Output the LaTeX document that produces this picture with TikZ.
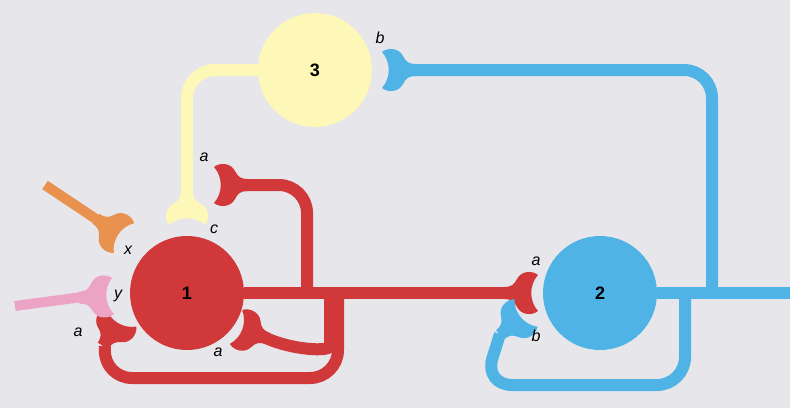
\documentclass[tikz,border=0pt]{standalone}
\usepackage{fontspec}
\setmainfont{Liberation Sans}
\begin{document}
\begin{tikzpicture}[x=1pt,y=-1pt,
  cell/.style={circle,minimum size=114pt,inner sep=0pt,font=\bfseries\fontsize{18}{18}\selectfont},
  ax/.style={line width=12pt,rounded corners=28pt},
  lab/.style={font=\itshape\fontsize{16}{16}\selectfont}]
\definecolor{bg}{HTML}{E7E7EB}
\definecolor{cr}{HTML}{D0383A}
\definecolor{cb}{HTML}{4FB3E6}
\definecolor{cy}{HTML}{FDF7B8}
\definecolor{co}{HTML}{E9914E}
\definecolor{cp}{HTML}{EDA3C3}
\newcommand\syn[4]{\fill[#4,shift={(#1,#2)},rotate=#3] (0,18) .. controls (-6,23) and (-17,22) .. (-21,14) .. controls (-24,8) and (-27,6) .. (-34,6) -- (-34,-6) .. controls (-27,-6) and (-24,-8) .. (-21,-14) .. controls (-17,-22) and (-6,-23) .. (0,-18) .. controls (-9,-8) and (-9,8) .. (0,18) -- cycle;}
\fill[bg] (0,0) rectangle (790,408);
\useasboundingbox (0,0) rectangle (790,408);
\node[cell,fill=cr] (n1) at (187,293) {1};
\node[cell,fill=cb] (n2) at (600,293) {2};
\node[cell,fill=cy] (n3) at (315,70) {3};
% red
\coordinate (r0) at (307,293); \coordinate (r1) at (330,293); \coordinate (r2) at (338,293);
\coordinate (ra) at (508,293); \coordinate (rb) at (246,185);
\coordinate (rc) at (266,338); \coordinate (rd) at (105,346);
\draw[ax,cr] (n1.east) -- (ra);
\draw[ax,cr] (r0) |- (rb);
\draw[ax,cr] (r1) -- (330,318) .. controls (330,352) and (292,350) .. (rc);
\draw[ax,cr] (r2) -- (338,378) -- (104,378) -- (rd);
\syn{538}{293}{0}{cr}
\syn{214}{185}{180}{cr}
\syn{236}{327}{160}{cr}
\syn{121}{317}{58}{cr}
% yellow
\coordinate (ya) at (187,196);
\draw[ax,cy] (n3.west) -| (ya);
\syn{187}{225}{-90}{cy}
% orange, pink
\coordinate (o0) at (45,185); \coordinate (oa) at (96,219);
\draw[co,line width=10pt] (o0) -- (oa);
\syn{124}{238}{-34.5}{co}
\coordinate (p0) at (15,306); \coordinate (pa) at (82,297);
\draw[cp,line width=10pt] (p0) -- (pa);
\syn{113}{296}{3}{cp}
% blue
\coordinate (b0) at (712,293); \coordinate (b1) at (685,293);
\coordinate (bend) at (790,293); \coordinate (ba) at (412,70); \coordinate (bb) at (500,334);
\draw[ax,cb] (n2.east) -- (bend);
\draw[ax,cb] (b0) |- (ba);
\draw[ax,cb] (b1) -- (685,385) -- (484,385) -- (bb);
\syn{382}{70}{180}{cb}
\syn{526}{313}{40}{cb}
% labels
\node[lab] (l1) at (204,157) {a};
\node[lab] (l2) at (214,229) {c};
\node[lab] (l3) at (128,250) {x};
\node[lab] (l4) at (118,296) {y};
\node[lab] (l5) at (78,332) {a};
\node[lab] (l6) at (218,352) {a};
\node[lab] (l7) at (380,38) {b};
\node[lab] (l8) at (536,261) {a};
\node[lab] (l9) at (536,336) {b};
\end{tikzpicture}
\end{document}
